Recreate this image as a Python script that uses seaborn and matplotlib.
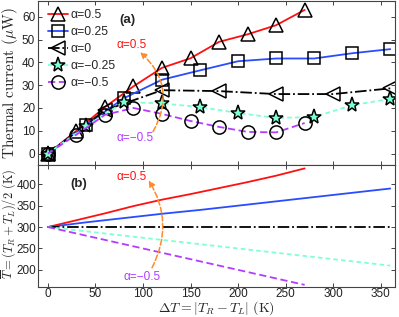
import numpy as np
import pandas as pd
import matplotlib
matplotlib.use("Agg")
import matplotlib.pyplot as plt
import seaborn as sns

# thermal current (uW) vs dT, one array per alpha
dt_30 = [0, 30, 60, 90, 120, 150, 180, 210, 240, 270]
dt_40 = [0, 40, 80, 120, 160, 200, 240, 280, 320, 360]
dt_60 = [0, 60, 120, 180, 240, 300, 360]

j_a050 = [0, 10, 20.4, 29.5, 37.6, 41.8, 49, 52.3, 56.3, 63]
j_a025 = [0, 12.6, 24.3, 32.4, 36.5, 40.5, 41.7, 41.7, 44, 45.8]
j_a000 = [0, 19, 27.8, 27.4, 26.1, 26.1, 28.6]
j_m025 = [0, 12, 22.6, 22, 20.4, 17.8, 15.6, 16.1, 21.2, 24]
j_m050 = [0, 8.3, 17, 20, 17.4, 14.3, 11.7, 9.5, 9.3, 13.4]

# mean temperature (K) vs dT
tb_a050 = [300, 316, 332, 349, 364, 377, 391, 405, 420, 437]
tb_a025 = [300, 311, 321, 331, 340, 350, 360, 370, 380, 390]
tb_a000 = [300, 300, 300, 300, 300, 300, 300, 300, 300, 300]
tb_m025 = [300, 290, 280, 270, 260, 250, 240, 230, 220, 210]
tb_m050 = [300, 285, 270, 255, 240, 225, 210, 195, 180, 165]

labels = ["α=0.5", "α=0.25", "α=0", "α=\u22120.25", "α=\u22120.5"]
colors = ["#ff1010", "#2a4cff", "black", "#7fffd4", "#b33cff"]
styles = ["-", "-", "-.", (0, (2.5, 1.8)), (0, (4, 2))]
marks = ["^", "s", "<", "*", "o"]
msizes = [10, 8, 10, 11, 9.5]

sns.set_style("ticks")
plt.rcParams["font.family"] = ["Liberation Sans", "DejaVu Sans"]
plt.rcParams["mathtext.fontset"] = "cm"
plt.rcParams["xtick.direction"] = "in"
plt.rcParams["ytick.direction"] = "in"
plt.rcParams["axes.edgecolor"] = "#444444"

fig = plt.figure(figsize=(3.99, 3.17), dpi=100)
ax1 = fig.add_axes([0.095, 0.4795, 0.895, 0.518])
ax2 = fig.add_axes([0.095, 0.0946, 0.895, 0.385])

top_x = [dt_30, dt_40, dt_60, dt_40, dt_30]
top_y = [j_a050, j_a025, j_a000, j_m025, j_m050]
for i in range(5):
    face = colors[i] if marks[i] == "*" else "none"
    sns.lineplot(x=top_x[i], y=top_y[i], ax=ax1, color=colors[i], linestyle=styles[i],
                 lw=1.3, marker=marks[i], markersize=msizes[i], markerfacecolor=face,
                 markeredgecolor="black", markeredgewidth=1.1, label=labels[i],
                 sort=False, estimator=None)

ax1.set_xlim(-10.5, 365)
ax1.set_ylim(-5, 67)
ax1.set_xticks(np.arange(0, 351, 50))
ax1.set_xticklabels([])
ax1.set_yticks(np.arange(0, 61, 10))
ax1.set_ylabel(r"$\mathrm{Thermal\ current}\ (\mu\mathrm{W})$", fontsize=11, labelpad=1)
ax1.legend(loc="upper left", frameon=False, fontsize=8.8, handlelength=1.7,
           handletextpad=0.2, labelspacing=0.4, borderaxespad=0.1,
           bbox_to_anchor=(0.01, 0.985))
ax1.text(0.25, 0.88, "(a)", transform=ax1.transAxes, fontsize=9.5, fontweight="bold",
         ha="center", va="center")
ax1.text(88, 47.4, "α=0.5", color="#ff1010", fontsize=8.5, ha="center", va="center")
ax1.text(92, 7, "α=\u22120.5", color="#b33cff", fontsize=8.5, ha="center", va="center")
ax1.annotate("", xy=(97, 44.5), xytext=(110.5, 9.6),
             arrowprops=dict(arrowstyle="-|>", color="#ff8a2a", lw=1.1, linestyle="--",
                             connectionstyle="arc3,rad=0.4", shrinkA=0, shrinkB=0,
                             mutation_scale=9))

bot_y = [tb_a050, tb_a025, tb_a000, tb_m025, tb_m050]
bot_x = [dt_30, dt_40, dt_40, dt_40, dt_30]
for i in range(5):
    sns.lineplot(x=bot_x[i], y=bot_y[i], ax=ax2, color=colors[i], linestyle=styles[i],
                 lw=1.3, sort=False, estimator=None)

ax2.set_xlim(-10.5, 365)
ax2.set_ylim(160, 445)
ax2.set_xticks(np.arange(0, 351, 50))
ax2.set_yticks(np.arange(200, 401, 50))
ax2.set_xlabel(r"$\Delta T=|T_R-T_L|\ \mathrm{(K)}$", fontsize=10, labelpad=-1)
ax2.set_ylabel(r"$\overline{T}=(T_R+T_L)/2\ \mathrm{(K)}$", fontsize=9, labelpad=0)
ax2.yaxis.set_label_coords(-0.055, 0.52)
ax2.text(0.115, 0.84, "(b)", transform=ax2.transAxes, fontsize=9.5, fontweight="bold",
         ha="center", va="center")
ax2.text(88, 416, "α=0.5", color="#ff1010", fontsize=8.5, ha="center", va="center")
ax2.text(99, 184, "α=\u22120.5", color="#b33cff", fontsize=8.5, ha="center", va="center")
ax2.annotate("", xy=(106, 409), xytext=(109.5, 205),
             arrowprops=dict(arrowstyle="-|>", color="#ff8a2a", lw=1.1, linestyle="--",
                             connectionstyle="arc3,rad=0.28", shrinkA=0, shrinkB=0,
                             mutation_scale=9))

for ax in (ax1, ax2):
    ax.tick_params(top=True, right=True, labelsize=8.5, length=3, width=0.6, pad=2,
                   colors="#222222")
    for s in ax.spines.values():
        s.set_linewidth(0.8)
ax2.tick_params(axis="x", pad=1)
ax2.tick_params(axis="y", pad=1.2)

fig.savefig("out.png", dpi=100)
